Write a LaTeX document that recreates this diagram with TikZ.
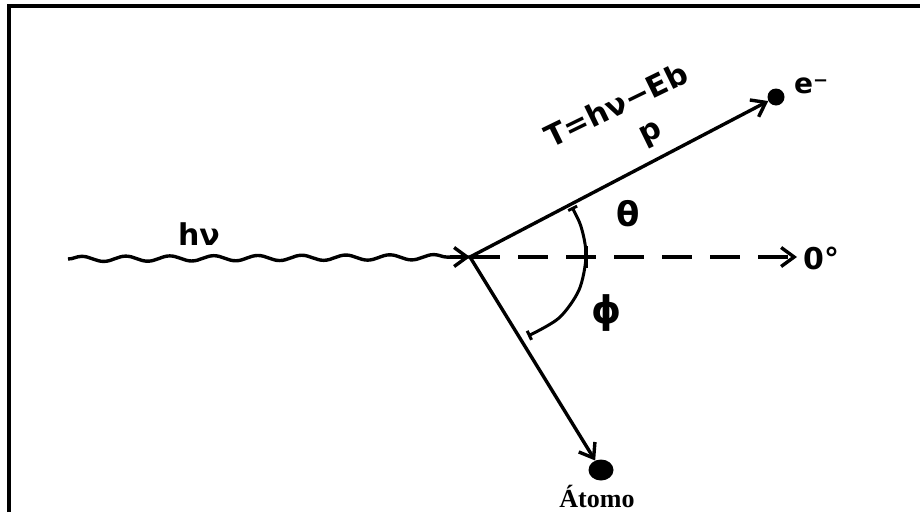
\documentclass[tikz,border=0pt]{standalone}
\usepackage{fontspec}
\setmainfont{DejaVu Sans}
\newfontfamily\serifb{Liberation Serif}
\usetikzlibrary{arrows.meta,decorations.pathmorphing,shapes.geometric,calc}
\begin{document}
\begin{tikzpicture}[x=1pt,y=-1pt,
  ln/.style={line width=3.4pt},
  tip/.style={-{Straight Barb[length=13pt,width=19pt,line width=3.4pt]}},
  lbl/.style={font=\fontsize{30}{32}\selectfont\bfseries, inner sep=0pt},
  dot/.style={circle, fill=black, inner sep=0pt, minimum size=17pt}]
\useasboundingbox (0,0) rectangle (920,512);
% frame
\draw[line width=3.5pt] (9,512) -- (9,6) -- (920,6);
% points
\coordinate (O) at (470,257);
\coordinate (wstart) at (68,259);
\coordinate (dend) at (797,257);
\node[dot] (edot) at (776,97) {};
\node[ellipse, fill=black, inner sep=0pt, minimum width=25pt, minimum height=21pt] (adot) at (601,470) {};
% wavy photon
\draw[ln, decorate, decoration={snake, segment length=44pt, amplitude=2.6pt, post length=16pt}] (wstart) -- (O);
\draw[ln, tip] ($(O)+(-20,0)$) -- (O);
% dashed reference line
\draw[ln, dash pattern=on 30pt off 18pt, tip] (O) -- (dend);
% electron
\draw[ln, tip] (O) -- (edot);
% atom
\draw[ln, tip] (O) -- (adot);
% angle arc
\draw[line width=3pt, {Bar[width=10pt]}-{Bar[width=10pt]}] plot[smooth] coordinates {(572,207) (582,230) (586,257) (579,290) (559,318) (528,336)};
\draw[line width=3.6pt] (586,246) -- (586,268);
% labels
\node[lbl] (hnu) at (199,234) {hν};
\node[lbl, rotate=26] (T) at (616,105) {T=hν−Eb};
\node[lbl, rotate=26] (p) at (652,135) {p};
\node[lbl, font=\fontsize{34}{36}\selectfont\bfseries] (th) at (628,214) {θ};
\node[lbl, font=\fontsize{38}{40}\selectfont\bfseries] (ph) at (607,313) {ϕ};
\node[lbl, anchor=west] (zero) at (803,258) {0°};
\node[lbl, anchor=west, font=\fontsize{28}{30}\selectfont\bfseries] (e) at (794,86) {e\raisebox{7pt}{\fontsize{18}{18}\selectfont −}};
\node[inner sep=0pt, font=\serifb\fontsize{26}{28}\selectfont\bfseries] (atomo) at (597,496) {Átomo};
\end{tikzpicture}
\end{document}
